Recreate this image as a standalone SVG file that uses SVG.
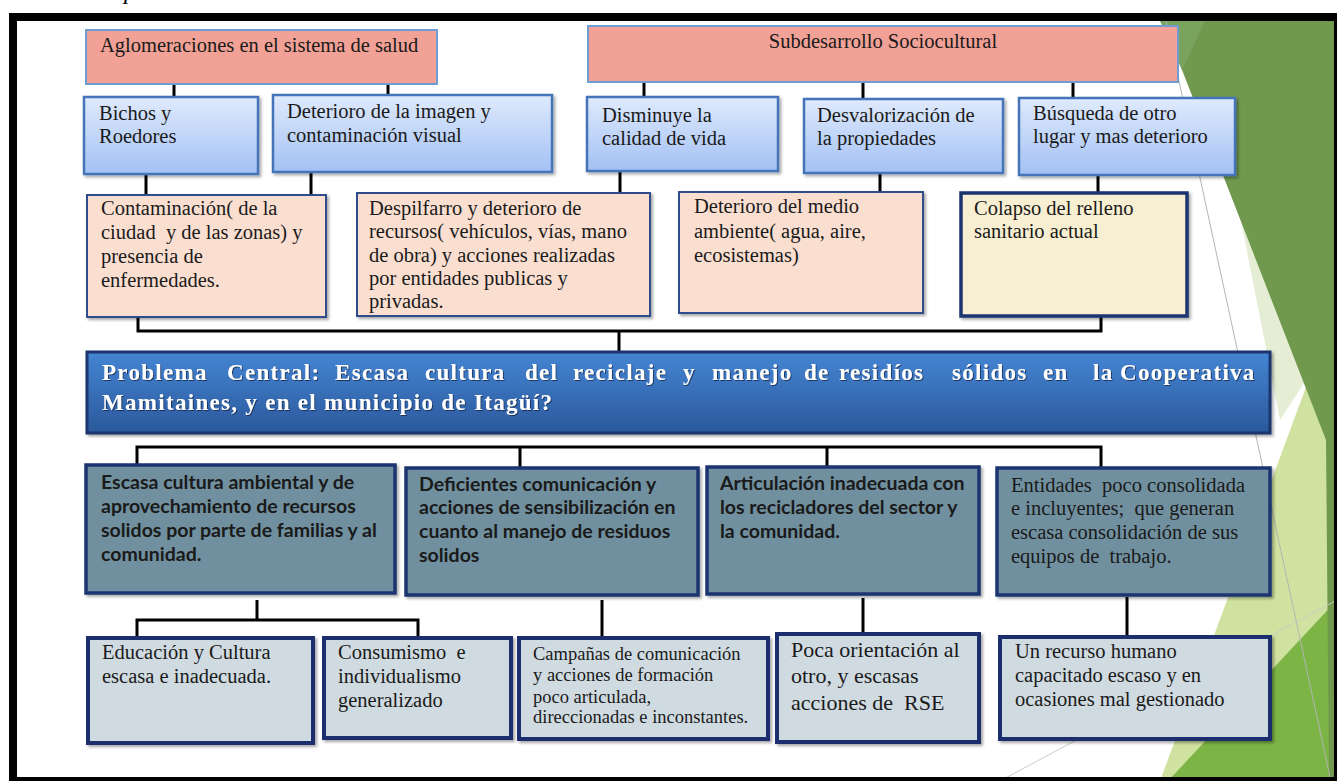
<svg xmlns="http://www.w3.org/2000/svg" width="1337" height="781" viewBox="0 0 1337 781" xml:space="preserve">
<defs>
<linearGradient id="gBlue" x1="0" y1="0" x2="0" y2="1"><stop offset="0" stop-color="#dfeafc"/><stop offset="1" stop-color="#a3c1f4"/></linearGradient>
<linearGradient id="gCentral" x1="0" y1="0" x2="0" y2="1"><stop offset="0" stop-color="#4585d3"/><stop offset="1" stop-color="#2a589b"/></linearGradient>
<filter id="sh" x="-5%" y="-5%" width="115%" height="120%"><feDropShadow dx="2" dy="2" stdDeviation="1.5" flood-color="#000" flood-opacity="0.35"/></filter>
<filter id="tsh" x="-2%" y="-10%" width="104%" height="130%"><feDropShadow dx="1" dy="1" stdDeviation="0.6" flood-color="#0a1c3a" flood-opacity="0.7"/></filter>
<clipPath id="inner"><rect x="17" y="21" width="1317" height="756"/></clipPath>
<style>
.pink{fill:#f2a196;stroke:#6f9cd3;stroke-width:2}
.blue{fill:url(#gBlue);stroke:#4474b8;stroke-width:2.5;filter:url(#sh)}
.peach{fill:#fadfd1;stroke:#2f4d8a;stroke-width:2;filter:url(#sh)}
.cream{fill:#f8efd2;stroke:#1b3570;stroke-width:3.5;filter:url(#sh)}
.steel{fill:#6f909f;stroke:#1b3570;stroke-width:3.5;filter:url(#sh)}
.light{fill:#d0dbe1;stroke:#1b2f6e;stroke-width:4;filter:url(#sh)}
.central{fill:url(#gCentral);stroke:#1a356c;stroke-width:3;filter:url(#sh)}
text{white-space:pre}
.t{font-family:"Liberation Serif","Times New Roman",serif;font-size:20.5px;fill:#1a1a1a}
.s{font-size:18.5px}
.l{font-size:22px}
.b{font-family:Lato,"Liberation Sans",sans-serif;font-weight:bold;font-size:19.5px;fill:#1a1a1a}
.pc{font-family:"Liberation Serif","Times New Roman",serif;font-weight:bold;font-size:23px;letter-spacing:1.3px;fill:#ffffff;filter:url(#tsh)}
#connectors line,#connectors path{stroke:#000;stroke-width:3;fill:none}
</style>
</defs>
<rect x="0" y="0" width="1337" height="781" fill="#ffffff"/>
<text x="124" y="-1" font-family="Liberation Serif,serif" font-style="italic" font-size="24" fill="#000">p</text>
<rect x="9" y="13" width="1328" height="768" fill="#000"/>
<rect x="17" y="21" width="1317" height="756" fill="#ffffff"/>
<g id="decor" clip-path="url(#inner)">
<polygon points="1236,195 1312,371 1280,420" fill="#e5eed4"/>
<polygon points="1312,371 1337,430 1337,781 1160,781" fill="#d0e2a0"/>
<polygon points="1337,600 1337,781 1168,781" fill="#7cb446"/>
<polygon points="1163,21 1337,21 1337,781 1329,781 1326,440" fill="#70994e"/>
<polygon points="1160,21 1205,21 1182,70" fill="#7aa35e"/>
<line x1="1166" y1="21" x2="1330" y2="777" stroke="#b4b4b4" stroke-width="1"/>
<line x1="1337" y1="600" x2="1000" y2="781" stroke="#c8cfc0" stroke-width="1"/>
</g>
<g id="connectors">
<line x1="174" y1="84" x2="174" y2="97"/>
<line x1="388" y1="84" x2="388" y2="95"/>
<line x1="644" y1="82" x2="644" y2="97"/>
<line x1="863" y1="82" x2="863" y2="99"/>
<line x1="1073" y1="82" x2="1073" y2="98"/>
<line x1="146" y1="174" x2="146" y2="195"/>
<line x1="311" y1="172" x2="311" y2="195"/>
<line x1="620" y1="171" x2="620" y2="193"/>
<line x1="880" y1="173" x2="880" y2="192"/>
<line x1="1098" y1="175" x2="1098" y2="193"/>
<path d="M138,317 V331 H1101 V316"/>
<line x1="619" y1="331" x2="619" y2="352"/>
<path d="M137,466 V447 H1101 V468"/>
<line x1="520" y1="447" x2="520" y2="468"/>
<line x1="827" y1="447" x2="827" y2="467"/>
<line x1="257" y1="600" x2="257" y2="620"/>
<path d="M137,638 V620 H418 V638"/>
<line x1="602" y1="600" x2="602" y2="638"/>
<line x1="863" y1="598" x2="863" y2="634"/>
<line x1="1127" y1="597" x2="1127" y2="637"/>
</g>
<g id="n-aglomeraciones"><rect class="pink" x="86" y="30" width="351" height="54"/><text class="t" x="100" y="52">Aglomeraciones en el sistema de salud</text></g>
<g id="n-subdesarrollo"><rect class="pink" x="588" y="26" width="590" height="56"/><text class="t" x="883" y="48" text-anchor="middle">Subdesarrollo Sociocultural</text></g>
<g id="n-bichos"><rect class="blue" x="84" y="97" width="174" height="77"/><text class="t" x="99" y="120">Bichos y</text><text class="t" x="99" y="143">Roedores</text></g>
<g id="n-deterioro-imagen"><rect class="blue" x="273" y="95" width="279" height="77"/><text class="t" x="287" y="118">Deterioro de la imagen y</text><text class="t" x="287" y="142">contaminación visual</text></g>
<g id="n-disminuye"><rect class="blue" x="587" y="97" width="191" height="74"/><text class="t" x="602" y="122">Disminuye la</text><text class="t" x="602" y="145">calidad de vida</text></g>
<g id="n-desvalorizacion"><rect class="blue" x="804" y="99" width="199" height="74"/><text class="t" x="817" y="122">Desvalorización de</text><text class="t" x="817" y="145">la propiedades</text></g>
<g id="n-busqueda"><rect class="blue" x="1019" y="98" width="216" height="77"/><text class="t" x="1033" y="120">Búsqueda de otro</text><text class="t" x="1033" y="143">lugar y mas deterioro</text></g>
<g id="n-contaminacion"><rect class="peach" x="87" y="195" width="239" height="122"/><text class="t" x="101" y="215">Contaminación( de la</text><text class="t" x="101" y="239">ciudad  y de las zonas) y</text><text class="t" x="101" y="263">presencia de</text><text class="t" x="101" y="287">enfermedades.</text></g>
<g id="n-despilfarro"><rect class="peach" x="357" y="193" width="293" height="123"/><text class="t" x="369" y="215">Despilfarro y deterioro de</text><text class="t" x="369" y="238">recursos( vehículos, vías, mano</text><text class="t" x="369" y="262">de obra) y acciones realizadas</text><text class="t" x="369" y="285">por entidades publicas y</text><text class="t" x="369" y="308">privadas.</text></g>
<g id="n-medio-ambiente"><rect class="peach" x="679" y="192" width="244" height="121"/><text class="t" x="694" y="213">Deterioro del medio</text><text class="t" x="694" y="238">ambiente( agua, aire,</text><text class="t" x="694" y="262">ecosistemas)</text></g>
<g id="n-colapso"><rect class="cream" x="961" y="193" width="226" height="123"/><text class="t" x="974" y="215">Colapso del relleno</text><text class="t" x="974" y="238">sanitario actual</text></g>
<g id="n-problema-central"><rect class="central" x="87" y="352" width="1183" height="81"/>
<text class="pc" y="380"><tspan x="102">Problema</tspan><tspan x="227">Central:</tspan><tspan x="335">Escasa</tspan><tspan x="425">cultura</tspan><tspan x="525">del</tspan><tspan x="573">reciclaje</tspan><tspan x="683">y</tspan><tspan x="712">manejo</tspan><tspan x="804">de</tspan><tspan x="839">residíos</tspan><tspan x="952">sólidos</tspan><tspan x="1043">en</tspan><tspan x="1093">la</tspan><tspan x="1120">Cooperativa</tspan></text>
<text class="pc" x="102" y="410">Mamitaines, y en el municipio de Itagüí?</text></g>
<g id="n-escasa-cultura"><rect class="steel" x="86" y="465" width="309" height="128"/><text class="b" x="101" y="489">Escasa cultura ambiental y de</text><text class="b" x="101" y="513">aprovechamiento de recursos</text><text class="b" x="101" y="537">solidos por parte de familias y al</text><text class="b" x="101" y="561">comunidad.</text></g>
<g id="n-deficientes"><rect class="steel" x="406" y="468" width="292" height="127"/><text class="b" x="419" y="491">Deficientes comunicación y</text><text class="b" x="419" y="514">acciones de sensibilización en</text><text class="b" x="419" y="538">cuanto al manejo de residuos</text><text class="b" x="419" y="562">solidos</text></g>
<g id="n-articulacion"><rect class="steel" x="707" y="467" width="272" height="127"/><text class="b" x="720" y="490">Articulación inadecuada con</text><text class="b" x="720" y="514">los recicladores del sector y</text><text class="b" x="720" y="538">la comunidad.</text></g>
<g id="n-entidades"><rect class="steel" x="997" y="468" width="273" height="127"/><text class="t" x="1011" y="492">Entidades  poco consolidada</text><text class="t" x="1011" y="515">e incluyentes;  que generan</text><text class="t" x="1011" y="539">escasa consolidación de sus</text><text class="t" x="1011" y="563">equipos de  trabajo.</text></g>
<g id="n-educacion"><rect class="light" x="88" y="638" width="225" height="105"/><text class="t" x="102" y="659">Educación y Cultura</text><text class="t" x="102" y="683">escasa e inadecuada.</text></g>
<g id="n-consumismo"><rect class="light" x="324" y="638" width="187" height="100"/><text class="t" x="338" y="659">Consumismo  e</text><text class="t" x="338" y="683">individualismo</text><text class="t" x="338" y="707">generalizado</text></g>
<g id="n-campanas"><rect class="light" x="519" y="638" width="249" height="101"/><text class="t s" x="533" y="660">Campañas de comunicación</text><text class="t s" x="533" y="681">y acciones de formación</text><text class="t s" x="533" y="703">poco articulada,</text><text class="t s" x="533" y="723">direccionadas e inconstantes.</text></g>
<g id="n-poca-orientacion"><rect class="light" x="777" y="634" width="202" height="108"/><text class="t l" x="791" y="657">Poca orientación al</text><text class="t l" x="791" y="683">otro, y escasas</text><text class="t l" x="791" y="710">acciones de  RSE</text></g>
<g id="n-recurso-humano"><rect class="light" x="1000" y="637" width="270" height="102"/><text class="t" x="1015" y="658">Un recurso humano</text><text class="t" x="1015" y="682">capacitado escaso y en</text><text class="t" x="1015" y="706">ocasiones mal gestionado</text></g>
</svg>
